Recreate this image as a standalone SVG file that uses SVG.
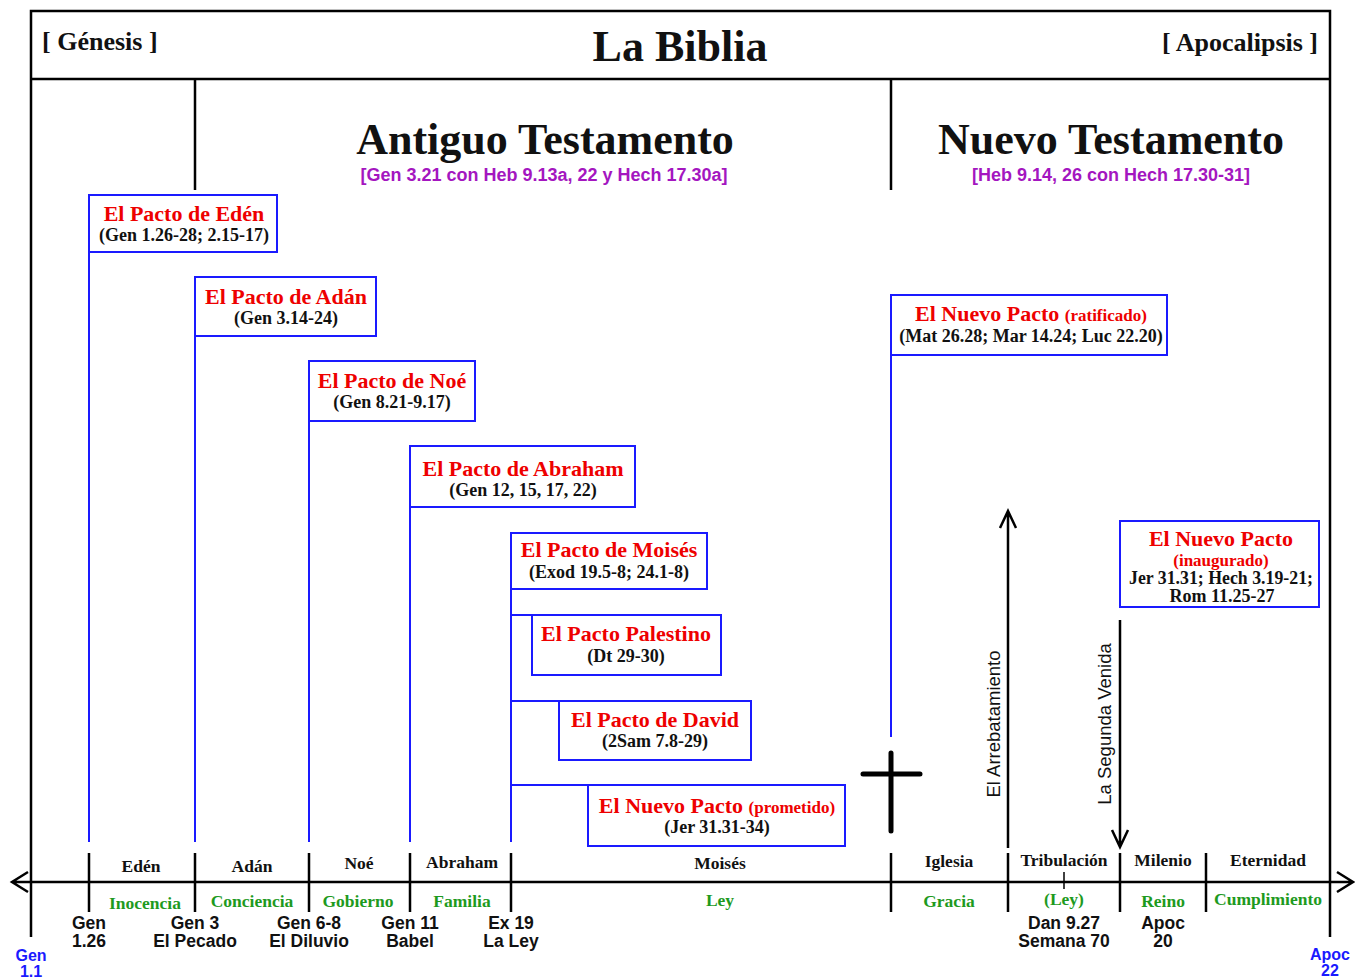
<svg xmlns="http://www.w3.org/2000/svg" width="1355" height="980" viewBox="0 0 1355 980">
<style>
.serif{font-family:"Liberation Serif","Times New Roman",serif;font-weight:bold}
.sans{font-family:"Liberation Sans",Arial,sans-serif;font-weight:bold}
.frame{stroke:#000;stroke-width:2.5;fill:none}
.box{fill:#fff;stroke:#1a1aff;stroke-width:2}
.bl{stroke:#1a1aff;stroke-width:2;fill:none}
.tick{stroke:#000;stroke-width:2.5;fill:none}
.ttl{fill:#ee0000;font-size:22px;text-anchor:middle}
.sub{fill:#ee0000;font-size:17px}
.ref{fill:#111;font-size:18px;text-anchor:middle}
.era{fill:#111;font-size:17.5px;text-anchor:middle}
.grn{fill:#1e9a1e;font-size:17.5px;text-anchor:middle}
.bot{fill:#111;font-size:17.5px;text-anchor:middle}
.blu{fill:#1a1aff;font-size:16px;text-anchor:middle}
.pur{fill:#a416c0;font-size:18px;text-anchor:middle}
.rot{font-family:"Liberation Sans",Arial,sans-serif;font-size:18.5px;fill:#111;text-anchor:middle}
</style>

<g id="frame">
<path class="frame" d="M31 937 V11 H1330 V937 M31 79 H1330 M195 79 V190 M891 79 V190"/>
</g>

<g id="header">
<text class="serif" x="42" y="50" font-size="26" fill="#111">[ Génesis ]</text>
<text class="serif" x="680" y="61" font-size="44" fill="#111" text-anchor="middle">La Biblia</text>
<text class="serif" x="1318" y="51" font-size="26" fill="#111" text-anchor="end">[ Apocalipsis ]</text>
</g>

<g id="antiguo">
<text class="serif" x="545" y="154" font-size="44" fill="#111" text-anchor="middle">Antiguo Testamento</text>
<text class="sans pur" x="544" y="181">[Gen 3.21 con Heb 9.13a, 22 y Hech 17.30a]</text>
</g>
<g id="nuevo">
<text class="serif" x="1111" y="154" font-size="44" fill="#111" text-anchor="middle">Nuevo Testamento</text>
<text class="sans pur" x="1111" y="181">[Heb 9.14, 26 con Hech 17.30-31]</text>
</g>

<g id="connectors">
<path class="bl" d="M89 252 V842 M195 336 V842 M309 421 V842 M410 507 V842 M511 589 V842 M511 615 H532 M511 701 H559 M511 785 H588 M891 355 V737"/>
<path class="tick" d="M12 882 H1353 M28 872 L12 882 L28 892 M1337 872 L1353 882 L1337 892"/>
<path class="tick" d="M89 853 V912 M195 853 V912 M309 853 V912 M410 853 V912 M511 853 V912 M891 853 V912 M1008 853 V912 M1120 853 V912 M1206 853 V912"/>
<path stroke="#000" stroke-width="1.5" d="M1064 872 V889"/>
<path class="tick" d="M1008 848 V511 M1000 528 L1008 511 L1016 528"/>
<path class="tick" d="M1120 620 V847 M1112 830 L1120 847 L1128 830"/>
<path stroke="#000" stroke-width="5" stroke-linecap="round" d="M891 753 V831 M863 774 H920"/>
</g>

<g id="pacto-eden">
<rect class="box" x="89" y="195" width="188" height="57"/>
<text class="serif ttl" x="184" y="221">El Pacto de Edén</text>
<text class="serif ref" x="184" y="241">(Gen 1.26-28; 2.15-17)</text>
</g>
<g id="pacto-adan">
<rect class="box" x="195" y="277" width="181" height="59"/>
<text class="serif ttl" x="286" y="304">El Pacto de Adán</text>
<text class="serif ref" x="286" y="324">(Gen 3.14-24)</text>
</g>
<g id="pacto-noe">
<rect class="box" x="309" y="361" width="166" height="60"/>
<text class="serif ttl" x="392" y="388">El Pacto de Noé</text>
<text class="serif ref" x="392" y="408">(Gen 8.21-9.17)</text>
</g>
<g id="pacto-abraham">
<rect class="box" x="410" y="446" width="225" height="61"/>
<text class="serif ttl" x="523" y="476">El Pacto de Abraham</text>
<text class="serif ref" x="523" y="496">(Gen 12, 15, 17, 22)</text>
</g>
<g id="pacto-moises">
<rect class="box" x="511" y="533" width="196" height="56"/>
<text class="serif ttl" x="609" y="557">El Pacto de Moisés</text>
<text class="serif ref" x="609" y="578">(Exod 19.5-8; 24.1-8)</text>
</g>
<g id="pacto-palestino">
<rect class="box" x="532" y="615" width="189" height="60"/>
<text class="serif ttl" x="626" y="641">El Pacto Palestino</text>
<text class="serif ref" x="626" y="662">(Dt 29-30)</text>
</g>
<g id="pacto-david">
<rect class="box" x="559" y="701" width="192" height="59"/>
<text class="serif ttl" x="655" y="727">El Pacto de David</text>
<text class="serif ref" x="655" y="747">(2Sam 7.8-29)</text>
</g>
<g id="nuevo-prometido">
<rect class="box" x="588" y="785" width="257" height="61"/>
<text class="serif ttl" x="717" y="813">El Nuevo Pacto <tspan class="sub">(prometido)</tspan></text>
<text class="serif ref" x="717" y="833">(Jer 31.31-34)</text>
</g>
<g id="nuevo-ratificado">
<rect class="box" x="891" y="295" width="276" height="60"/>
<text class="serif ttl" x="1031" y="321">El Nuevo Pacto <tspan class="sub">(ratificado)</tspan></text>
<text class="serif ref" x="1031" y="342">(Mat 26.28; Mar 14.24; Luc 22.20)</text>
</g>
<g id="nuevo-inaugurado">
<rect class="box" x="1120" y="521" width="199" height="86"/>
<text class="serif ttl" x="1221" y="546">El Nuevo Pacto</text>
<text class="serif" x="1221" y="566" font-size="17" fill="#ee0000" text-anchor="middle">(inaugurado)</text>
<text class="serif ref" x="1221" y="584" textLength="184" lengthAdjust="spacingAndGlyphs">Jer 31.31; Hech 3.19-21;</text>
<text class="serif ref" x="1222" y="602">Rom 11.25-27</text>
</g>

<g id="eventos">
<text class="rot" transform="translate(1000,724) rotate(-90)">El Arrebatamiento</text>
<text class="rot" transform="translate(1111,724) rotate(-90)">La Segunda Venida</text>
</g>

<g id="eras">
<text class="serif era" x="141" y="872">Edén</text>
<text class="serif era" x="252" y="872">Adán</text>
<text class="serif era" x="359" y="869">Noé</text>
<text class="serif era" x="462" y="868">Abraham</text>
<text class="serif era" x="720" y="869">Moisés</text>
<text class="serif era" x="949" y="867">Iglesia</text>
<text class="serif era" x="1064" y="866">Tribulación</text>
<text class="serif era" x="1163" y="866">Milenio</text>
<text class="serif era" x="1268" y="866">Eternidad</text>
</g>

<g id="dispensaciones">
<text class="serif grn" x="145" y="909">Inocencia</text>
<text class="serif grn" x="252" y="907">Conciencia</text>
<text class="serif grn" x="358" y="907">Gobierno</text>
<text class="serif grn" x="462" y="907">Familia</text>
<text class="serif grn" x="720" y="906">Ley</text>
<text class="serif grn" x="949" y="907">Gracia</text>
<text class="serif grn" x="1064" y="905">(Ley)</text>
<text class="serif grn" x="1163" y="907">Reino</text>
<text class="serif grn" x="1268" y="905">Cumplimiento</text>
</g>

<g id="referencias">
<text class="sans bot" x="89" y="929">Gen</text>
<text class="sans bot" x="89" y="947">1.26</text>
<text class="sans bot" x="195" y="929">Gen 3</text>
<text class="sans bot" x="195" y="947">El Pecado</text>
<text class="sans bot" x="309" y="929">Gen 6-8</text>
<text class="sans bot" x="309" y="947">El Diluvio</text>
<text class="sans bot" x="410" y="929">Gen 11</text>
<text class="sans bot" x="410" y="947">Babel</text>
<text class="sans bot" x="511" y="929">Ex 19</text>
<text class="sans bot" x="511" y="947">La Ley</text>
<text class="sans bot" x="1064" y="929">Dan 9.27</text>
<text class="sans bot" x="1064" y="947">Semana 70</text>
<text class="sans bot" x="1163" y="929">Apoc</text>
<text class="sans bot" x="1163" y="947">20</text>
<text class="sans blu" x="31" y="961">Gen</text>
<text class="sans blu" x="31" y="977">1.1</text>
<text class="sans blu" x="1330" y="960">Apoc</text>
<text class="sans blu" x="1330" y="976">22</text>
</g>
</svg>
